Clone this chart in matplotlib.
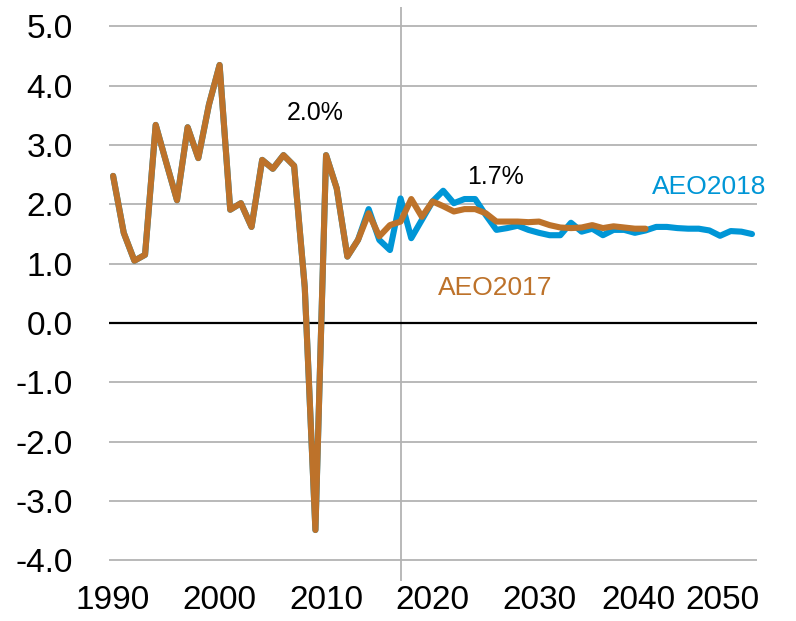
import matplotlib
matplotlib.use("Agg")
import matplotlib.pyplot as plt
import matplotlib.transforms as mtransforms
import numpy as np

plt.rcParams['font.family'] = ['Liberation Sans', 'DejaVu Sans']

years_2017 = list(range(1990, 2041))
aeo2017 = [2.48, 1.52, 1.05, 1.15, 3.34, 2.70, 2.07, 3.30, 2.78, 3.68,
           4.35, 1.91, 2.02, 1.62, 2.75, 2.60, 2.83, 2.65, 0.60, -3.49,
           2.83, 2.27, 1.12, 1.40, 1.85, 1.46, 1.65, 1.71, 2.09, 1.79,
           2.05, 1.97, 1.88, 1.92, 1.92, 1.85, 1.71, 1.71, 1.71, 1.70,
           1.71, 1.65, 1.61, 1.60, 1.61, 1.65, 1.60, 1.63, 1.61, 1.59,
           1.59]

years_2018 = list(range(1990, 2051))
aeo2018 = [2.48, 1.52, 1.05, 1.15, 3.34, 2.70, 2.07, 3.30, 2.78, 3.68,
           4.35, 1.91, 2.02, 1.62, 2.75, 2.60, 2.83, 2.65, 0.60, -3.49,
           2.83, 2.27, 1.12, 1.40, 1.92, 1.40, 1.23, 2.10, 1.43, 1.74,
           2.05, 2.23, 2.02, 2.09, 2.09, 1.82, 1.57, 1.60, 1.64, 1.57,
           1.52, 1.48, 1.48, 1.69, 1.54, 1.59, 1.48, 1.57, 1.57, 1.52,
           1.56, 1.62, 1.62, 1.60, 1.59, 1.59, 1.56, 1.47, 1.55, 1.54,
           1.50]

x_ticks = [1990, 2000, 2010, 2020, 2030, 2040, 2050]
y_ticks = [-4, -3, -2, -1, 0, 1, 2, 3, 4, 5]
y_ticklabels = ['-4.0', '-3.0', '-2.0', '-1.0', '0.0', '1.0', '2.0', '3.0', '4.0', '5.0']

blue = '#0096d6'
orange = '#bd722a'

fig = plt.figure(figsize=(7.96, 6.21), dpi=100)
ax = fig.add_axes([0.137, 0.0644, 0.814, 0.9236])

for yv in y_ticks:
    if yv == 0:
        continue
    ax.axhline(yv, color='#b3b3b3', lw=1.3, zorder=1)
ax.axhline(0, color='black', lw=1.6, zorder=2)
ax.axvline(2017, color='#b3b3b3', lw=1.3, zorder=1)

ax.plot(years_2018, aeo2018, color=blue, lw=4.4, solid_joinstyle='round',
        solid_capstyle='round', zorder=3)
ax.plot(years_2017, aeo2017, color=orange, lw=4.4, solid_joinstyle='round',
        solid_capstyle='round', zorder=4)

ax.set_xlim(1989.62, 2050.47)
ax.set_ylim(-4.35, 5.32)
ax.set_xticks(x_ticks)
ax.set_xticklabels([str(v) for v in x_ticks])
ax.set_yticks(y_ticks)
ax.set_yticklabels(y_ticklabels)
ax.tick_params(axis='both', length=0, labelsize=24)
ax.tick_params(axis='y', pad=26)
ax.tick_params(axis='x', pad=3)
for s in ax.spines.values():
    s.set_visible(False)

# Shift the last two year labels left so they fit, as in the original
xlabels = ax.get_xticklabels()
for lbl, dx in ((xlabels[-2], -7), (xlabels[-1], -30)):
    off = mtransforms.ScaledTranslation(dx / 100.0, 0, fig.dpi_scale_trans)
    lbl.set_transform(lbl.get_transform() + off)

ax.text(2009.0, 3.54, '2.0%', ha='center', va='center', fontsize=18, color='black')
ax.text(2025.9, 2.46, '1.7%', ha='center', va='center', fontsize=18, color='black')
ax.text(2046.0, 2.29, 'AEO2018', ha='center', va='center', fontsize=19, color=blue)
ax.text(2025.9, 0.59, 'AEO2017', ha='center', va='center', fontsize=19, color=orange)

fig.savefig('out.png', dpi=100)
